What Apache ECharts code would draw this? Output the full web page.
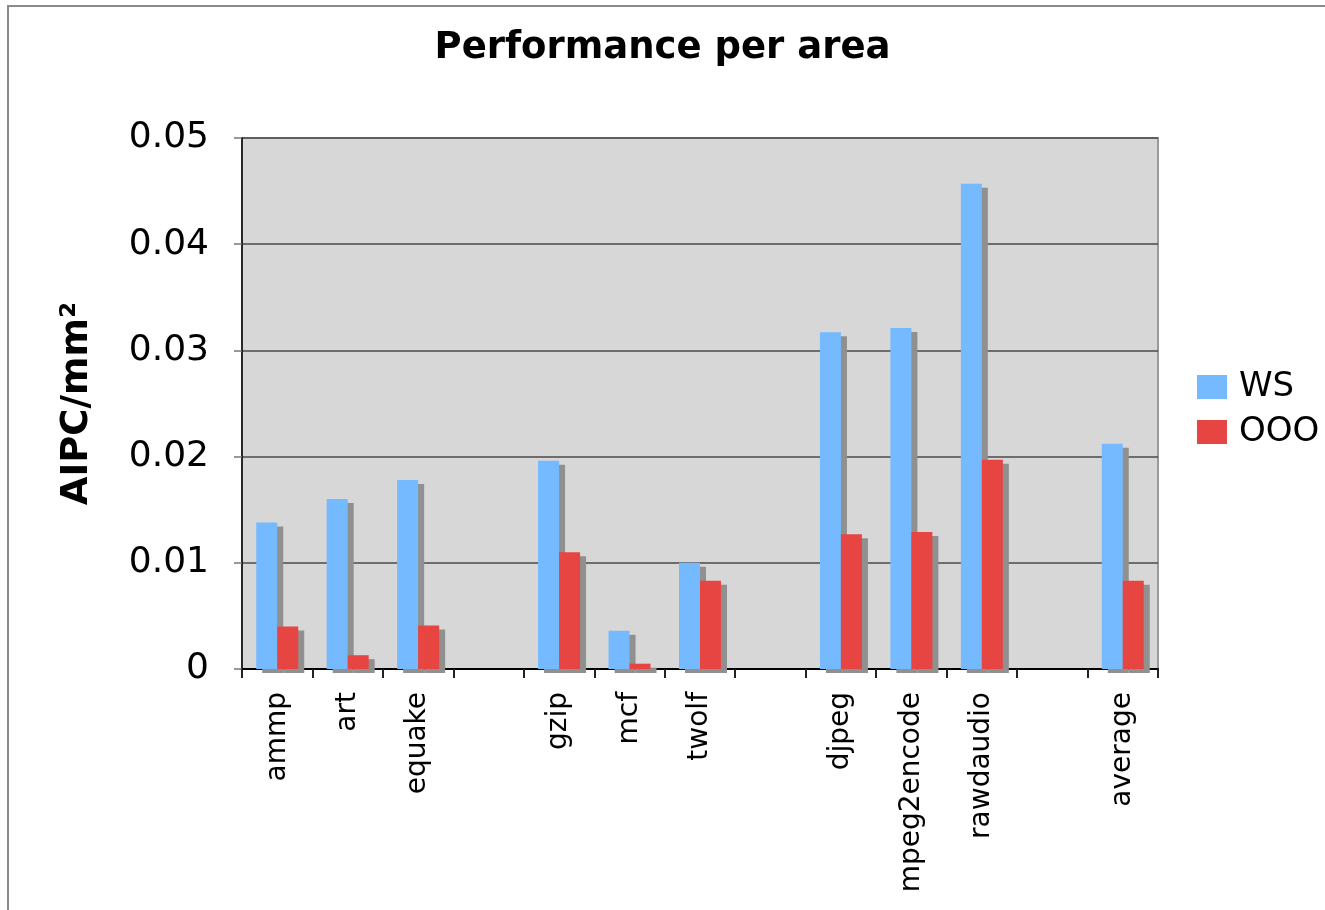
<!DOCTYPE html>
<html>
<head>
<meta charset="utf-8">
<title>Performance per area</title>
<script src="https://cdn.jsdelivr.net/npm/echarts@6/dist/echarts.min.js"></script>
<style>
  html, body { margin: 0; padding: 0; background: #ffffff; }
  #frame {
    position: absolute; left: 7px; top: 5px; width: 1400px; height: 1000px;
    border-left: 2px solid #8a8a8a; border-top: 2px solid #8a8a8a;
  }
  #chart { position: absolute; left: 0; top: 0; width: 1325px; height: 910px; }
</style>
</head>
<body>
<div id="frame"></div>
<div id="chart"></div>
<script>
// Benchmarks, with empty slots separating the groups
const categories = ['ammp', 'art', 'equake', ' ', 'gzip', 'mcf', 'twolf', '  ', 'djpeg', 'mpeg2encode', 'rawdaudio', '   ', 'average'];
// AIPC per mm^2
const wsValues  = [0.0138, 0.0160, 0.0178, null, 0.0196, 0.0036, 0.0100, null, 0.0317, 0.0321, 0.0457, null, 0.0212];
const oooValues = [0.0040, 0.0013, 0.0041, null, 0.0110, 0.0005, 0.0083, null, 0.0127, 0.0129, 0.0197, null, 0.0083];
const yTicks = { min: 0, max: 0.05, interval: 0.01 };

const FONT = 'DejaVu Sans';
const shadow = { shadowColor: '#909090', shadowBlur: 0, shadowOffsetX: 6, shadowOffsetY: 4 };

const chart = echarts.init(document.getElementById('chart'), null, { renderer: 'canvas' });
chart.setOption({
  animation: false,
  backgroundColor: 'transparent',
  title: {
    text: 'Performance per area',
    left: 'center',
    top: 25,
    textStyle: { fontFamily: FONT, fontWeight: 'bold', fontSize: 37, color: '#000' }
  },
  legend: {
    orient: 'vertical',
    left: 1192,
    top: 365,
    itemWidth: 30,
    itemHeight: 24,
    itemGap: 11,
    icon: 'rect',
    textStyle: { fontFamily: FONT, fontSize: 34, color: '#000', padding: [0, 0, 0, 7] },
    data: ['WS', 'OOO']
  },
  grid: {
    left: 242, right: 167, top: 138, bottom: 241,
    show: true,
    backgroundColor: '#d7d7d7',
    borderColor: '#9a9a9a',
    borderWidth: 2
  },
  xAxis: {
    type: 'category',
    data: categories,
    axisLine: { lineStyle: { color: '#000', width: 2 } },
    axisTick: { show: true, interval: 0, length: 9, lineStyle: { color: '#222', width: 2 } },
    axisLabel: {
      interval: 0, rotate: 90, margin: 23,
      fontFamily: FONT, fontSize: 28, color: '#000'
    },
    splitLine: { show: false }
  },
  yAxis: {
    type: 'value',
    min: yTicks.min, max: yTicks.max, interval: yTicks.interval,
    name: 'AIPC/mm²',
    nameLocation: 'middle',
    nameGap: 146,
    nameRotate: 90,
    nameTextStyle: { fontFamily: FONT, fontWeight: 'bold', fontSize: 37, color: '#000' },
    axisLine: { show: true, lineStyle: { color: '#000', width: 1.5 } },
    axisTick: { show: true, length: 8, lineStyle: { color: '#777', width: 1.5 } },
    axisLabel: { margin: 33, fontFamily: FONT, fontSize: 36, color: '#000' },
    splitLine: { show: true, lineStyle: { color: '#4a4a4a', width: 1.5 } }
  },
  series: [
    {
      name: 'WS', type: 'bar', data: wsValues,
      barWidth: 21, barGap: '0%',
      itemStyle: Object.assign({ color: '#75b9ff' }, shadow)
    },
    {
      name: 'OOO', type: 'bar', data: oooValues,
      barWidth: 21, barGap: '0%',
      itemStyle: Object.assign({ color: '#e74542' }, shadow)
    }
  ]
});
</script>
</body>
</html>
